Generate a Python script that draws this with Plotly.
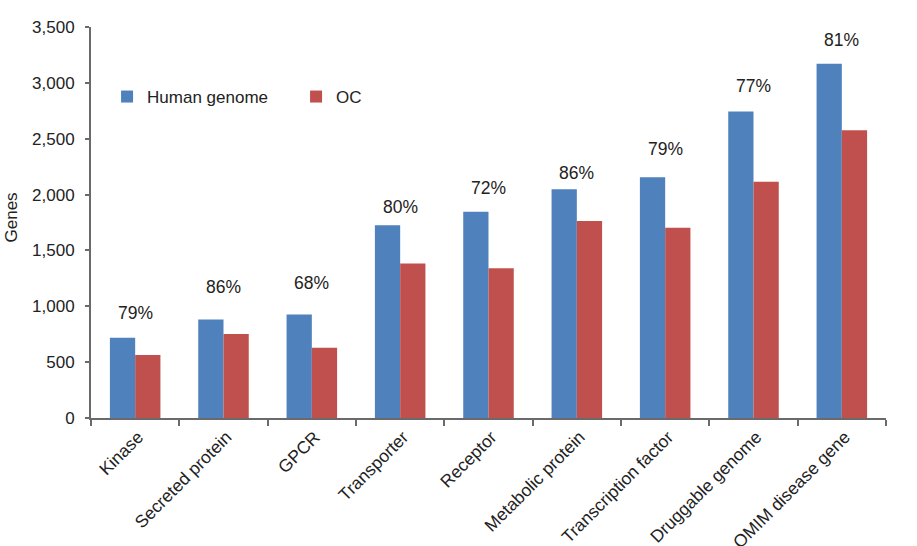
import plotly.graph_objects as go

categories = ["Kinase", "Secreted protein", "GPCR", "Transporter", "Receptor",
              "Metabolic protein", "Transcription factor", "Druggable genome",
              "OMIM disease gene"]
human_genome = [718, 882, 927, 1725, 1847, 2047, 2154, 2744, 3170]
oc = [563, 753, 628, 1383, 1341, 1763, 1704, 2115, 2576]
pct_labels = ["79%", "86%", "68%", "80%", "72%", "86%", "79%", "77%", "81%"]
pct_label_y = [938, 1171, 1206, 1886, 2056, 2189, 2404, 2976, 3387]
y_ticks = [0, 500, 1000, 1500, 2000, 2500, 3000, 3500]
y_ticktext = ["0", "500", "1,000", "1,500", "2,000", "2,500", "3,000", "3,500"]

FONT = "Liberation Sans, Arial, Helvetica, sans-serif"
TXT = "#222222"
AXIS = "#6a6a6a"

fig = go.Figure()
fig.add_trace(go.Bar(x=categories, y=human_genome, name="Human genome",
                     marker=dict(color="#4F81BD", line=dict(width=0))))
fig.add_trace(go.Bar(x=categories, y=oc, name="OC",
                     marker=dict(color="#C0504D", line=dict(width=0))))

for c, t, yv in zip(categories, pct_labels, pct_label_y):
    fig.add_annotation(x=c, y=yv, text=t, showarrow=False,
                       xanchor="center", yanchor="middle",
                       font=dict(size=17.5, color=TXT, family=FONT))

fig.add_annotation(xref="paper", yref="paper", x=-0.1, y=0.5115,
                   text="Genes", textangle=-90, showarrow=False,
                   xanchor="center", yanchor="middle",
                   font=dict(size=17, color=TXT, family=FONT))

fig.update_layout(
    width=917, height=546,
    margin=dict(l=91, r=31, t=27, b=128, autoexpand=False),
    paper_bgcolor="white", plot_bgcolor="white",
    barmode="group", bargap=0.428, bargroupgap=0,
    font=dict(family=FONT, size=17, color=TXT),
    showlegend=True,
    legend=dict(orientation="h", x=0.0202, y=0.821, xanchor="left", yanchor="middle",
                bgcolor="rgba(0,0,0,0)", borderwidth=0,
                font=dict(size=17, color=TXT, family=FONT),
                entrywidth=144, entrywidthmode="pixels", traceorder="normal"),
    xaxis=dict(showline=True, linecolor=AXIS, linewidth=2, ticks="outside",
               tickson="boundaries", ticklen=6, tickwidth=2, tickcolor=AXIS,
               tickangle=-45, showgrid=False, zeroline=False, automargin=False,
               ticklabelstandoff=0, ticklabelshift=3,
               tickfont=dict(size=17.5, color=TXT, family=FONT)),
    yaxis=dict(range=[0, 3500], tickvals=y_ticks, ticktext=y_ticktext,
               showline=True, linecolor=AXIS, linewidth=2, ticks="outside",
               ticklen=4, tickwidth=2, tickcolor=AXIS, showgrid=False,
               zeroline=False, ticklabelstandoff=7, automargin=False,
               tickfont=dict(size=17, color=TXT, family=FONT)),
)

fig.write_html("out.html", config={"displayModeBar": False},
               post_script="document.body.style.margin='0';")
